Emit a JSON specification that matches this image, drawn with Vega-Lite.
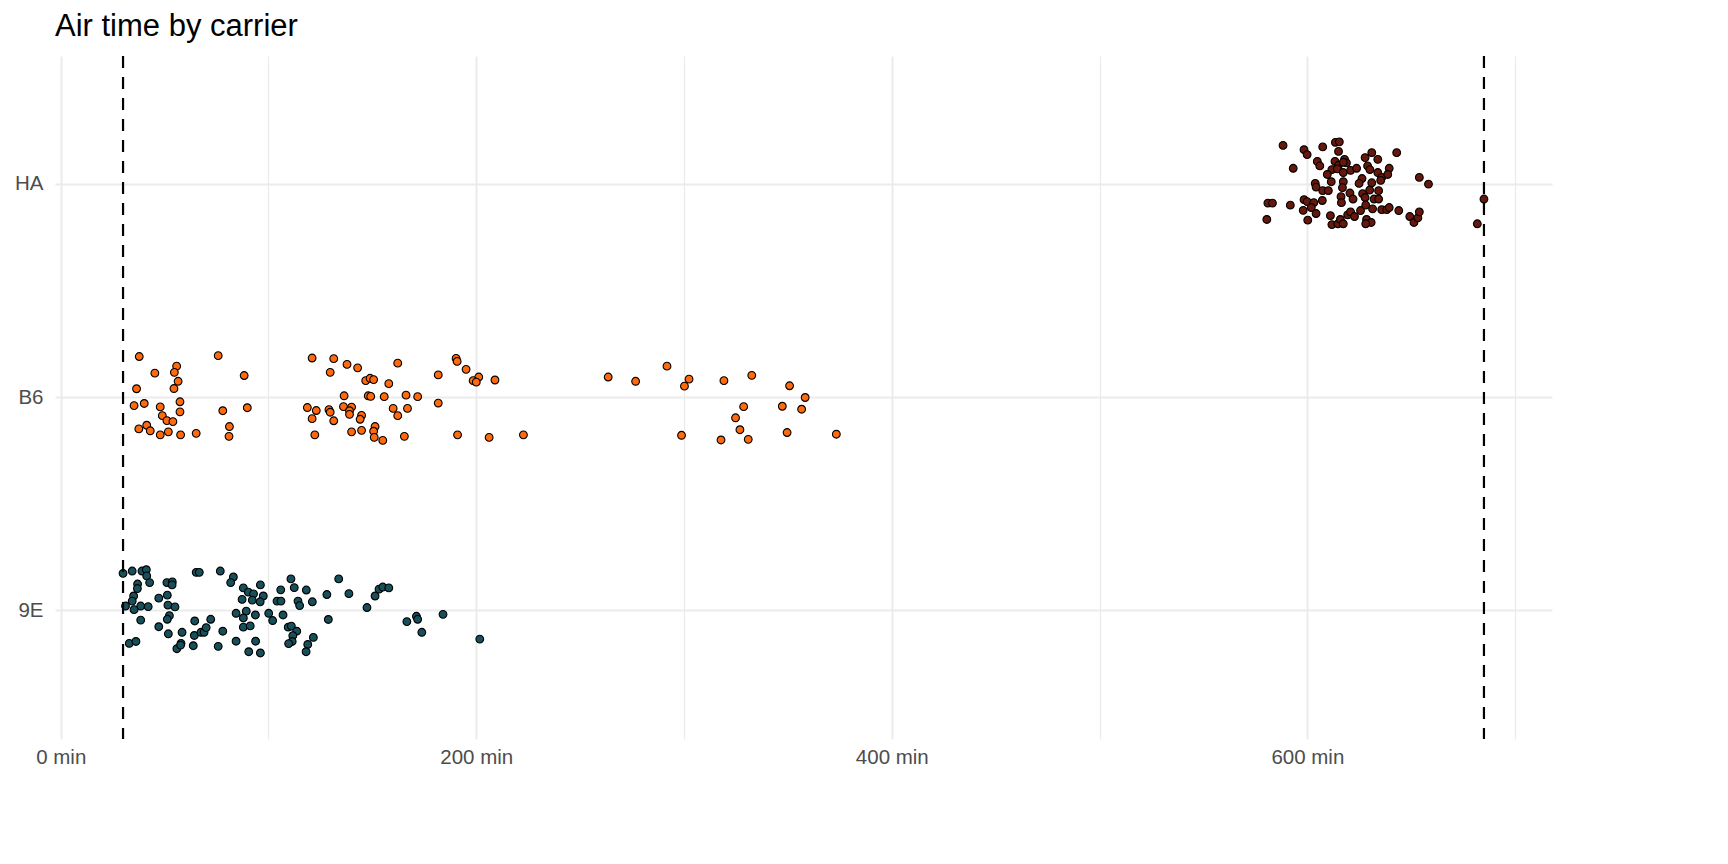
{
  "$schema": "https://vega.github.io/schema/vega-lite/v6.json",
  "width": 1497,
  "height": 683,
  "autosize": {"type": "none"},
  "padding": {"left": 55, "top": 56, "right": 176, "bottom": 125},
  "background": "white",
  "title": {
    "text": "Air time by carrier",
    "anchor": "start",
    "frame": "group",
    "font": "Liberation Sans",
    "fontSize": 31,
    "fontWeight": "normal",
    "color": "black",
    "baseline": "alphabetic",
    "offset": -12
  },
  "data": {
    "values": [
      {"carrier": "9E", "air_time": 30.0, "jitter": 0.176},
      {"carrier": "9E", "air_time": 34.4, "jitter": 0.187},
      {"carrier": "9E", "air_time": 39.1, "jitter": 0.187},
      {"carrier": "9E", "air_time": 41.2, "jitter": 0.193},
      {"carrier": "9E", "air_time": 41.4, "jitter": 0.164},
      {"carrier": "9E", "air_time": 42.8, "jitter": 0.133},
      {"carrier": "9E", "air_time": 37.0, "jitter": 0.126},
      {"carrier": "9E", "air_time": 36.9, "jitter": 0.105},
      {"carrier": "9E", "air_time": 35.1, "jitter": 0.070},
      {"carrier": "9E", "air_time": 34.4, "jitter": 0.046},
      {"carrier": "9E", "air_time": 31.2, "jitter": 0.023},
      {"carrier": "9E", "air_time": 38.5, "jitter": 0.023},
      {"carrier": "9E", "air_time": 42.1, "jitter": 0.020},
      {"carrier": "9E", "air_time": 35.3, "jitter": 0.006},
      {"carrier": "9E", "air_time": 38.5, "jitter": -0.043},
      {"carrier": "9E", "air_time": 33.0, "jitter": -0.152},
      {"carrier": "9E", "air_time": 36.2, "jitter": -0.143},
      {"carrier": "9E", "air_time": 47.2, "jitter": 0.060},
      {"carrier": "9E", "air_time": 51.1, "jitter": 0.133},
      {"carrier": "9E", "air_time": 53.7, "jitter": 0.136},
      {"carrier": "9E", "air_time": 53.6, "jitter": 0.122},
      {"carrier": "9E", "air_time": 51.3, "jitter": 0.074},
      {"carrier": "9E", "air_time": 51.6, "jitter": 0.027},
      {"carrier": "9E", "air_time": 55.0, "jitter": 0.019},
      {"carrier": "9E", "air_time": 52.3, "jitter": -0.022},
      {"carrier": "9E", "air_time": 51.3, "jitter": -0.039},
      {"carrier": "9E", "air_time": 47.2, "jitter": -0.074},
      {"carrier": "9E", "air_time": 51.8, "jitter": -0.107},
      {"carrier": "9E", "air_time": 58.4, "jitter": -0.100},
      {"carrier": "9E", "air_time": 57.9, "jitter": -0.152},
      {"carrier": "9E", "air_time": 55.9, "jitter": -0.177},
      {"carrier": "9E", "air_time": 57.7, "jitter": -0.160},
      {"carrier": "9E", "air_time": 63.8, "jitter": -0.163},
      {"carrier": "9E", "air_time": 64.3, "jitter": -0.115},
      {"carrier": "9E", "air_time": 64.5, "jitter": -0.047},
      {"carrier": "9E", "air_time": 65.2, "jitter": 0.181},
      {"carrier": "9E", "air_time": 66.7, "jitter": 0.181},
      {"carrier": "9E", "air_time": 67.5, "jitter": -0.100},
      {"carrier": "9E", "air_time": 69.0, "jitter": -0.100},
      {"carrier": "9E", "air_time": 70.0, "jitter": -0.078},
      {"carrier": "9E", "air_time": 72.2, "jitter": -0.039},
      {"carrier": "9E", "air_time": 76.8, "jitter": 0.187},
      {"carrier": "9E", "air_time": 83.1, "jitter": 0.159},
      {"carrier": "9E", "air_time": 81.8, "jitter": 0.133},
      {"carrier": "9E", "air_time": 78.0, "jitter": -0.095},
      {"carrier": "9E", "air_time": 75.8, "jitter": -0.166},
      {"carrier": "9E", "air_time": 84.4, "jitter": -0.142},
      {"carrier": "9E", "air_time": 87.9, "jitter": 0.108},
      {"carrier": "9E", "air_time": 90.3, "jitter": 0.088},
      {"carrier": "9E", "air_time": 92.8, "jitter": 0.080},
      {"carrier": "9E", "air_time": 96.1, "jitter": 0.122},
      {"carrier": "9E", "air_time": 97.5, "jitter": 0.070},
      {"carrier": "9E", "air_time": 87.3, "jitter": 0.054},
      {"carrier": "9E", "air_time": 92.2, "jitter": 0.051},
      {"carrier": "9E", "air_time": 96.0, "jitter": 0.043},
      {"carrier": "9E", "air_time": 84.4, "jitter": -0.011},
      {"carrier": "9E", "air_time": 89.3, "jitter": -0.001},
      {"carrier": "9E", "air_time": 87.9, "jitter": -0.033},
      {"carrier": "9E", "air_time": 93.7, "jitter": -0.019},
      {"carrier": "9E", "air_time": 87.9, "jitter": -0.076},
      {"carrier": "9E", "air_time": 91.2, "jitter": -0.070},
      {"carrier": "9E", "air_time": 93.8, "jitter": -0.142},
      {"carrier": "9E", "air_time": 90.5, "jitter": -0.191},
      {"carrier": "9E", "air_time": 96.1, "jitter": -0.197},
      {"carrier": "9E", "air_time": 100.1, "jitter": -0.011},
      {"carrier": "9E", "air_time": 102.0, "jitter": -0.045},
      {"carrier": "9E", "air_time": 104.1, "jitter": 0.046},
      {"carrier": "9E", "air_time": 106.0, "jitter": 0.046},
      {"carrier": "9E", "air_time": 105.9, "jitter": 0.099},
      {"carrier": "9E", "air_time": 107.0, "jitter": -0.019},
      {"carrier": "9E", "air_time": 110.8, "jitter": 0.150},
      {"carrier": "9E", "air_time": 112.4, "jitter": 0.109},
      {"carrier": "9E", "air_time": 118.2, "jitter": 0.098},
      {"carrier": "9E", "air_time": 114.2, "jitter": 0.046},
      {"carrier": "9E", "air_time": 115.0, "jitter": 0.025},
      {"carrier": "9E", "air_time": 121.1, "jitter": 0.043},
      {"carrier": "9E", "air_time": 109.5, "jitter": -0.076},
      {"carrier": "9E", "air_time": 111.0, "jitter": -0.071},
      {"carrier": "9E", "air_time": 113.6, "jitter": -0.095},
      {"carrier": "9E", "air_time": 111.7, "jitter": -0.116},
      {"carrier": "9E", "air_time": 111.4, "jitter": -0.143},
      {"carrier": "9E", "air_time": 109.7, "jitter": -0.153},
      {"carrier": "9E", "air_time": 121.6, "jitter": -0.124},
      {"carrier": "9E", "air_time": 118.9, "jitter": -0.157},
      {"carrier": "9E", "air_time": 118.1, "jitter": -0.191},
      {"carrier": "9E", "air_time": 128.1, "jitter": 0.077},
      {"carrier": "9E", "air_time": 128.8, "jitter": -0.040},
      {"carrier": "9E", "air_time": 133.8, "jitter": 0.150},
      {"carrier": "9E", "air_time": 138.7, "jitter": 0.081},
      {"carrier": "9E", "air_time": 147.4, "jitter": 0.016},
      {"carrier": "9E", "air_time": 151.3, "jitter": 0.070},
      {"carrier": "9E", "air_time": 153.2, "jitter": 0.102},
      {"carrier": "9E", "air_time": 155.0, "jitter": 0.112},
      {"carrier": "9E", "air_time": 157.9, "jitter": 0.108},
      {"carrier": "9E", "air_time": 166.6, "jitter": -0.050},
      {"carrier": "9E", "air_time": 171.2, "jitter": -0.025},
      {"carrier": "9E", "air_time": 171.8, "jitter": -0.039},
      {"carrier": "9E", "air_time": 173.8, "jitter": -0.100},
      {"carrier": "9E", "air_time": 184.0, "jitter": -0.016},
      {"carrier": "9E", "air_time": 201.7, "jitter": -0.132},
      {"carrier": "B6", "air_time": 37.8, "jitter": 0.192},
      {"carrier": "B6", "air_time": 45.3, "jitter": 0.114},
      {"carrier": "B6", "air_time": 55.8, "jitter": 0.147},
      {"carrier": "B6", "air_time": 54.7, "jitter": 0.118},
      {"carrier": "B6", "air_time": 56.5, "jitter": 0.076},
      {"carrier": "B6", "air_time": 54.5, "jitter": 0.042},
      {"carrier": "B6", "air_time": 36.5, "jitter": 0.041},
      {"carrier": "B6", "air_time": 35.3, "jitter": -0.038},
      {"carrier": "B6", "air_time": 40.2, "jitter": -0.028},
      {"carrier": "B6", "air_time": 47.9, "jitter": -0.044},
      {"carrier": "B6", "air_time": 48.9, "jitter": -0.085},
      {"carrier": "B6", "air_time": 51.1, "jitter": -0.108},
      {"carrier": "B6", "air_time": 54.0, "jitter": -0.113},
      {"carrier": "B6", "air_time": 57.4, "jitter": -0.020},
      {"carrier": "B6", "air_time": 57.4, "jitter": -0.067},
      {"carrier": "B6", "air_time": 41.4, "jitter": -0.130},
      {"carrier": "B6", "air_time": 37.6, "jitter": -0.147},
      {"carrier": "B6", "air_time": 43.1, "jitter": -0.156},
      {"carrier": "B6", "air_time": 47.9, "jitter": -0.175},
      {"carrier": "B6", "air_time": 51.8, "jitter": -0.161},
      {"carrier": "B6", "air_time": 57.7, "jitter": -0.175},
      {"carrier": "B6", "air_time": 65.2, "jitter": -0.168},
      {"carrier": "B6", "air_time": 75.8, "jitter": 0.196},
      {"carrier": "B6", "air_time": 88.3, "jitter": 0.103},
      {"carrier": "B6", "air_time": 78.0, "jitter": -0.062},
      {"carrier": "B6", "air_time": 81.2, "jitter": -0.136},
      {"carrier": "B6", "air_time": 81.0, "jitter": -0.182},
      {"carrier": "B6", "air_time": 89.8, "jitter": -0.048},
      {"carrier": "B6", "air_time": 121.0, "jitter": 0.185},
      {"carrier": "B6", "air_time": 131.4, "jitter": 0.182},
      {"carrier": "B6", "air_time": 137.8, "jitter": 0.155},
      {"carrier": "B6", "air_time": 142.9, "jitter": 0.139},
      {"carrier": "B6", "air_time": 129.7, "jitter": 0.118},
      {"carrier": "B6", "air_time": 162.2, "jitter": 0.161},
      {"carrier": "B6", "air_time": 146.8, "jitter": 0.079},
      {"carrier": "B6", "air_time": 148.9, "jitter": 0.090},
      {"carrier": "B6", "air_time": 150.6, "jitter": 0.084},
      {"carrier": "B6", "air_time": 157.9, "jitter": 0.065},
      {"carrier": "B6", "air_time": 181.7, "jitter": 0.106},
      {"carrier": "B6", "air_time": 190.3, "jitter": 0.183},
      {"carrier": "B6", "air_time": 190.8, "jitter": 0.169},
      {"carrier": "B6", "air_time": 195.1, "jitter": 0.132},
      {"carrier": "B6", "air_time": 201.2, "jitter": 0.096},
      {"carrier": "B6", "air_time": 198.5, "jitter": 0.079},
      {"carrier": "B6", "air_time": 200.0, "jitter": 0.072},
      {"carrier": "B6", "air_time": 209.0, "jitter": 0.082},
      {"carrier": "B6", "air_time": 136.4, "jitter": 0.008},
      {"carrier": "B6", "air_time": 148.0, "jitter": 0.008},
      {"carrier": "B6", "air_time": 149.2, "jitter": 0.005},
      {"carrier": "B6", "air_time": 155.7, "jitter": 0.004},
      {"carrier": "B6", "air_time": 166.2, "jitter": 0.011},
      {"carrier": "B6", "air_time": 171.8, "jitter": 0.004},
      {"carrier": "B6", "air_time": 181.7, "jitter": -0.026},
      {"carrier": "B6", "air_time": 118.7, "jitter": -0.047},
      {"carrier": "B6", "air_time": 123.0, "jitter": -0.061},
      {"carrier": "B6", "air_time": 129.1, "jitter": -0.057},
      {"carrier": "B6", "air_time": 129.7, "jitter": -0.069},
      {"carrier": "B6", "air_time": 121.0, "jitter": -0.099},
      {"carrier": "B6", "air_time": 131.4, "jitter": -0.109},
      {"carrier": "B6", "air_time": 136.1, "jitter": -0.043},
      {"carrier": "B6", "air_time": 140.0, "jitter": -0.045},
      {"carrier": "B6", "air_time": 139.0, "jitter": -0.062},
      {"carrier": "B6", "air_time": 139.0, "jitter": -0.079},
      {"carrier": "B6", "air_time": 144.8, "jitter": -0.084},
      {"carrier": "B6", "air_time": 144.1, "jitter": -0.102},
      {"carrier": "B6", "air_time": 160.0, "jitter": -0.051},
      {"carrier": "B6", "air_time": 166.9, "jitter": -0.051},
      {"carrier": "B6", "air_time": 162.2, "jitter": -0.085},
      {"carrier": "B6", "air_time": 122.3, "jitter": -0.175},
      {"carrier": "B6", "air_time": 140.0, "jitter": -0.161},
      {"carrier": "B6", "air_time": 144.8, "jitter": -0.154},
      {"carrier": "B6", "air_time": 151.3, "jitter": -0.136},
      {"carrier": "B6", "air_time": 150.6, "jitter": -0.158},
      {"carrier": "B6", "air_time": 150.9, "jitter": -0.187},
      {"carrier": "B6", "air_time": 155.0, "jitter": -0.201},
      {"carrier": "B6", "air_time": 165.4, "jitter": -0.182},
      {"carrier": "B6", "air_time": 191.0, "jitter": -0.175},
      {"carrier": "B6", "air_time": 206.2, "jitter": -0.187},
      {"carrier": "B6", "air_time": 222.7, "jitter": -0.175},
      {"carrier": "B6", "air_time": 263.5, "jitter": 0.096},
      {"carrier": "B6", "air_time": 276.7, "jitter": 0.076},
      {"carrier": "B6", "air_time": 291.8, "jitter": 0.147},
      {"carrier": "B6", "air_time": 302.4, "jitter": 0.086},
      {"carrier": "B6", "air_time": 300.2, "jitter": 0.053},
      {"carrier": "B6", "air_time": 319.2, "jitter": 0.079},
      {"carrier": "B6", "air_time": 332.6, "jitter": 0.104},
      {"carrier": "B6", "air_time": 350.8, "jitter": 0.055},
      {"carrier": "B6", "air_time": 358.3, "jitter": 0.000},
      {"carrier": "B6", "air_time": 328.7, "jitter": -0.043},
      {"carrier": "B6", "air_time": 347.3, "jitter": -0.041},
      {"carrier": "B6", "air_time": 356.6, "jitter": -0.055},
      {"carrier": "B6", "air_time": 324.8, "jitter": -0.095},
      {"carrier": "B6", "air_time": 298.8, "jitter": -0.177},
      {"carrier": "B6", "air_time": 317.8, "jitter": -0.199},
      {"carrier": "B6", "air_time": 326.9, "jitter": -0.151},
      {"carrier": "B6", "air_time": 330.9, "jitter": -0.196},
      {"carrier": "B6", "air_time": 349.6, "jitter": -0.164},
      {"carrier": "B6", "air_time": 373.3, "jitter": -0.172},
      {"carrier": "HA", "air_time": 588.3, "jitter": 0.181},
      {"carrier": "HA", "air_time": 593.2, "jitter": 0.074},
      {"carrier": "HA", "air_time": 591.8, "jitter": -0.099},
      {"carrier": "HA", "air_time": 598.4, "jitter": 0.161},
      {"carrier": "HA", "air_time": 599.9, "jitter": 0.138},
      {"carrier": "HA", "air_time": 607.4, "jitter": 0.174},
      {"carrier": "HA", "air_time": 613.5, "jitter": 0.195},
      {"carrier": "HA", "air_time": 615.4, "jitter": 0.198},
      {"carrier": "HA", "air_time": 615.0, "jitter": 0.153},
      {"carrier": "HA", "air_time": 604.8, "jitter": 0.106},
      {"carrier": "HA", "air_time": 606.0, "jitter": 0.085},
      {"carrier": "HA", "air_time": 613.3, "jitter": 0.106},
      {"carrier": "HA", "air_time": 615.0, "jitter": 0.088},
      {"carrier": "HA", "air_time": 617.9, "jitter": 0.116},
      {"carrier": "HA", "air_time": 618.8, "jitter": 0.099},
      {"carrier": "HA", "air_time": 617.3, "jitter": 0.102},
      {"carrier": "HA", "air_time": 611.8, "jitter": 0.068},
      {"carrier": "HA", "air_time": 614.4, "jitter": 0.071},
      {"carrier": "HA", "air_time": 609.6, "jitter": 0.045},
      {"carrier": "HA", "air_time": 617.3, "jitter": 0.054},
      {"carrier": "HA", "air_time": 620.8, "jitter": 0.064},
      {"carrier": "HA", "air_time": 623.7, "jitter": 0.074},
      {"carrier": "HA", "air_time": 627.8, "jitter": 0.124},
      {"carrier": "HA", "air_time": 631.0, "jitter": 0.147},
      {"carrier": "HA", "air_time": 633.9, "jitter": 0.116},
      {"carrier": "HA", "air_time": 629.0, "jitter": 0.085},
      {"carrier": "HA", "air_time": 630.1, "jitter": 0.068},
      {"carrier": "HA", "air_time": 633.9, "jitter": 0.054},
      {"carrier": "HA", "air_time": 635.8, "jitter": 0.031},
      {"carrier": "HA", "air_time": 639.4, "jitter": 0.074},
      {"carrier": "HA", "air_time": 638.7, "jitter": 0.045},
      {"carrier": "HA", "air_time": 643.0, "jitter": 0.147},
      {"carrier": "HA", "air_time": 626.3, "jitter": 0.026},
      {"carrier": "HA", "air_time": 611.5, "jitter": 0.011},
      {"carrier": "HA", "air_time": 617.3, "jitter": 0.011},
      {"carrier": "HA", "air_time": 603.8, "jitter": 0.003},
      {"carrier": "HA", "air_time": 604.2, "jitter": -0.014},
      {"carrier": "HA", "air_time": 624.9, "jitter": 0.003},
      {"carrier": "HA", "air_time": 631.0, "jitter": 0.006},
      {"carrier": "HA", "air_time": 635.3, "jitter": 0.017},
      {"carrier": "HA", "air_time": 616.9, "jitter": -0.017},
      {"carrier": "HA", "air_time": 607.4, "jitter": -0.031},
      {"carrier": "HA", "air_time": 610.1, "jitter": -0.031},
      {"carrier": "HA", "air_time": 620.5, "jitter": -0.042},
      {"carrier": "HA", "air_time": 626.6, "jitter": -0.045},
      {"carrier": "HA", "air_time": 630.0, "jitter": -0.028},
      {"carrier": "HA", "air_time": 634.3, "jitter": -0.031},
      {"carrier": "HA", "air_time": 653.9, "jitter": 0.031},
      {"carrier": "HA", "air_time": 658.3, "jitter": 0.000},
      {"carrier": "HA", "air_time": 616.2, "jitter": -0.059},
      {"carrier": "HA", "air_time": 616.4, "jitter": -0.087},
      {"carrier": "HA", "air_time": 622.0, "jitter": -0.070},
      {"carrier": "HA", "air_time": 627.8, "jitter": -0.063},
      {"carrier": "HA", "air_time": 632.1, "jitter": -0.070},
      {"carrier": "HA", "air_time": 634.3, "jitter": -0.070},
      {"carrier": "HA", "air_time": 598.4, "jitter": -0.073},
      {"carrier": "HA", "air_time": 599.9, "jitter": -0.082},
      {"carrier": "HA", "air_time": 603.1, "jitter": -0.087},
      {"carrier": "HA", "air_time": 607.2, "jitter": -0.077},
      {"carrier": "HA", "air_time": 601.9, "jitter": -0.110},
      {"carrier": "HA", "air_time": 598.0, "jitter": -0.123},
      {"carrier": "HA", "air_time": 604.2, "jitter": -0.138},
      {"carrier": "HA", "air_time": 600.2, "jitter": -0.169},
      {"carrier": "HA", "air_time": 611.1, "jitter": -0.148},
      {"carrier": "HA", "air_time": 611.8, "jitter": -0.190},
      {"carrier": "HA", "air_time": 614.7, "jitter": -0.186},
      {"carrier": "HA", "air_time": 615.9, "jitter": -0.166},
      {"carrier": "HA", "air_time": 617.3, "jitter": -0.186},
      {"carrier": "HA", "air_time": 619.4, "jitter": -0.144},
      {"carrier": "HA", "air_time": 620.8, "jitter": -0.130},
      {"carrier": "HA", "air_time": 622.7, "jitter": -0.152},
      {"carrier": "HA", "air_time": 625.6, "jitter": -0.124},
      {"carrier": "HA", "air_time": 628.1, "jitter": -0.099},
      {"carrier": "HA", "air_time": 631.4, "jitter": -0.116},
      {"carrier": "HA", "air_time": 628.5, "jitter": -0.166},
      {"carrier": "HA", "air_time": 630.7, "jitter": -0.180},
      {"carrier": "HA", "air_time": 628.1, "jitter": -0.186},
      {"carrier": "HA", "air_time": 635.8, "jitter": -0.120},
      {"carrier": "HA", "air_time": 638.2, "jitter": -0.120},
      {"carrier": "HA", "air_time": 639.4, "jitter": -0.110},
      {"carrier": "HA", "air_time": 644.0, "jitter": -0.124},
      {"carrier": "HA", "air_time": 649.3, "jitter": -0.152},
      {"carrier": "HA", "air_time": 651.3, "jitter": -0.180},
      {"carrier": "HA", "air_time": 653.2, "jitter": -0.158},
      {"carrier": "HA", "air_time": 653.9, "jitter": -0.130},
      {"carrier": "HA", "air_time": 681.8, "jitter": -0.186},
      {"carrier": "HA", "air_time": 685.0, "jitter": -0.070},
      {"carrier": "HA", "air_time": 580.5, "jitter": -0.166},
      {"carrier": "HA", "air_time": 581.0, "jitter": -0.089},
      {"carrier": "HA", "air_time": 583.2, "jitter": -0.089}
    ]
  },
  "layer": [
    {
      "mark": {"type": "circle", "size": 60, "opacity": 1, "stroke": "black", "strokeWidth": 1.1},
      "encoding": {
        "x": {
          "field": "air_time",
          "type": "quantitative",
          "scale": {"domain": [-2.75, 717.75], "nice": false, "zero": false},
          "axis": {
            "values": [0, 100, 200, 300, 400, 500, 600, 700],
            "labelExpr": "datum.value % 200 === 0 ? datum.value + ' min' : ''",
            "gridWidth": {"condition": {"test": "datum.value % 200 === 0", "value": 2}, "value": 1.3},
            "labelPadding": 8
          }
        },
        "y": {
          "field": "carrier",
          "type": "nominal",
          "sort": ["HA", "B6", "9E"],
          "scale": {"type": "band", "paddingInner": 0, "paddingOuter": 0.1},
          "axis": {"bandPosition": 0.5, "gridWidth": 2, "labelPadding": 12}
        },
        "yOffset": {
          "field": "jitter",
          "type": "quantitative",
          "scale": {"domain": [-0.5, 0.5], "range": [213.44, 0]}
        },
        "fill": {
          "field": "carrier",
          "type": "nominal",
          "scale": {"domain": ["9E", "B6", "HA"], "range": ["#17505B", "#FF6A0E", "#65180B"]},
          "legend": null
        }
      }
    },
    {
      "mark": {"type": "rule", "color": "black", "strokeWidth": 2.2, "strokeDash": [12, 9]},
      "encoding": {"x": {"aggregate": "min", "field": "air_time", "type": "quantitative"}}
    },
    {
      "mark": {"type": "rule", "color": "black", "strokeWidth": 2.2, "strokeDash": [12, 9]},
      "encoding": {"x": {"aggregate": "max", "field": "air_time", "type": "quantitative"}}
    }
  ],
  "config": {
    "view": {"stroke": null},
    "axis": {
      "title": null,
      "grid": true,
      "gridColor": "#EBEBEB",
      "ticks": false,
      "domain": false,
      "labelFont": "Liberation Sans",
      "labelFontSize": 20.5,
      "labelColor": "#4D4D4D",
      "labelFlush": false,
      "labelOverlap": false
    }
  }
}
